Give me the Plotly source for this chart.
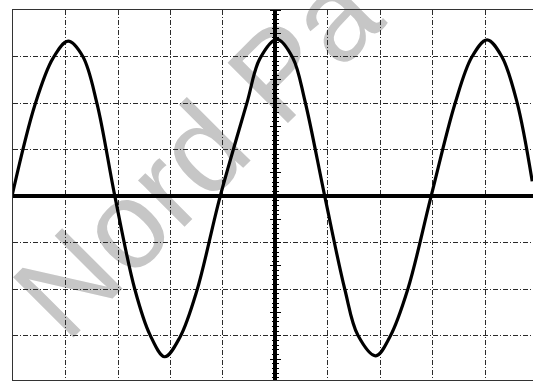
import plotly.graph_objects as go

# Trace samples (x, y in screen divisions; centre of screen = 0,0)
trace_x = [-5.02, -4.58, -4.24, -3.95, -3.67, -3.40, -3.06, -2.68, -2.39, -2.11,
           -1.82, -1.50, -1.06, -0.54, -0.30, 0.03, 0.33, 0.56, 0.94, 1.32, 1.57, 1.91,
           2.18, 2.52, 2.96, 3.42, 3.74, 4.03, 4.31, 4.60, 4.89]
trace_y = [0.00, 1.97, 2.96, 3.33, 3.00, 1.99, 0.00, -2.00, -2.98, -3.45,
           -3.03, -2.04, -0.03, 2.02, 2.95, 3.37, 2.97, 2.05, -0.01, -2.00, -2.99, -3.43,
           -3.02, -2.00, -0.02, 1.99, 2.99, 3.36, 3.00, 2.02, 0.32]

x_range = [-5.0, 4.905]
y_range = [-3.95, 4.0]
watermark = "Nord Pa"

fig = go.Figure()
fig.add_trace(go.Scatter(x=trace_x, y=trace_y, mode="lines",
                         line=dict(color="#000000", width=3.2, shape="spline", smoothing=1.0),
                         hoverinfo="skip", showlegend=False))

grid_common = dict(showgrid=True, gridcolor="#2a2a2a", gridwidth=1, griddash="5px,2px,1px,2px",
                   showticklabels=False, ticks="", zeroline=True, zerolinecolor="#000000",
                   showline=True, linecolor="#333333", linewidth=1)

tick_axis = dict(range=y_range, overlaying="y", anchor="free", position=0.5048,
                 showgrid=False, zeroline=False, showline=False, showticklabels=False,
                 ticks="outside", ticklen=5, tickwidth=1, tickcolor="#000", dtick=0.5, tick0=0,
                 minor=dict(ticks="outside", ticklen=3, dtick=0.1, tick0=0, tickcolor="#000"))

fig.update_layout(
    width=533, height=382,
    margin=dict(l=13, r=0, t=10, b=2, autoexpand=False),
    paper_bgcolor="white", plot_bgcolor="white",
    showlegend=False,
    xaxis=dict(range=x_range, dtick=1, tick0=0, zerolinewidth=4, mirror=True, **grid_common),
    yaxis=dict(range=y_range, dtick=1, tick0=0, zerolinewidth=3.5, mirror=False, **grid_common),
    yaxis2=dict(side="left", **tick_axis),
    yaxis3=dict(side="right", **tick_axis),
    shapes=[dict(type="rect", xref="paper", yref="paper", x0=0.137, x1=0.537, y0=0.435, y1=0.835,
                 line=dict(width=0), fillcolor="rgba(0,0,0,0)", layer="between",
                 label=dict(text=watermark, textangle=-45, textposition="middle center",
                            font=dict(family="Liberation Sans, Arial, sans-serif", size=124,
                                      color="#c6c6c6")))],
)
fig.add_trace(go.Scatter(x=[None], y=[None], yaxis="y2", showlegend=False, hoverinfo="skip"))
fig.add_trace(go.Scatter(x=[None], y=[None], yaxis="y3", showlegend=False, hoverinfo="skip"))

fig.write_html("out.html", config={"displayModeBar": False},
               post_script="document.body.style.margin='0';document.body.style.overflow='hidden';")
